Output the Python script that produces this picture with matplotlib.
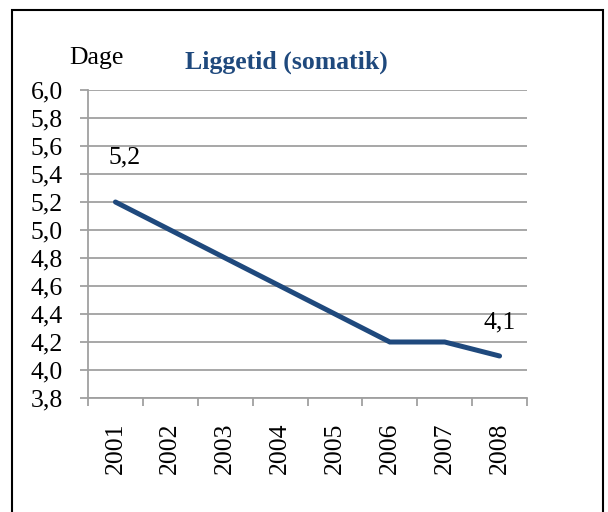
import numpy as np
import matplotlib.pyplot as plt
from matplotlib.patches import Rectangle

years = ['2001', '2002', '2003', '2004', '2005', '2006', '2007', '2008']
dage = [5.2, 5.0, 4.8, 4.6, 4.4, 4.2, 4.2, 4.1]
yticks = [3.8, 4.0, 4.2, 4.4, 4.6, 4.8, 5.0, 5.2, 5.4, 5.6, 5.8, 6.0]

plt.rcParams['font.family'] = ['Liberation Serif', 'DejaVu Serif']
W, H = 608, 512
fig = plt.figure(figsize=(W / 100, H / 100), dpi=100)
ax = fig.add_axes([88 / W, 1 - 398 / H, (527 - 88) / W, (398 - 90) / H])

grey = '#a0a0a0'
blue = '#1f497d'
fs = 18.5
x = np.arange(len(years))
ax.plot(x, dage, color=blue, lw=3.6, solid_capstyle='round', solid_joinstyle='miter')

ax.set_xlim(-0.5, len(years) - 0.5)
ax.set_ylim(3.8, 6.0)
ax.set_yticks(yticks)
ax.set_yticklabels([('%.1f' % v).replace('.', ',') for v in yticks], fontsize=fs)
ax.yaxis.grid(True, color=grey, lw=1.3)
ax.set_axisbelow(True)
ax.tick_params(axis='y', length=5.5, color=grey, width=1.3, pad=12.5)

ax.set_xticks(x)
ax.set_xticklabels(years, rotation=90, fontsize=fs)
ax.set_xticks(np.arange(-0.5, len(years)), minor=True)
ax.tick_params(axis='x', which='major', length=0, pad=18)
ax.tick_params(axis='x', which='minor', length=6, color=grey, width=1.3)

for s in ['top', 'right']:
    ax.spines[s].set_visible(False)
for s in ['left', 'bottom']:
    ax.spines[s].set_color(grey)
    ax.spines[s].set_linewidth(1.3)

# data labels
ax.annotate(('%.1f' % dage[0]).replace('.', ','), (x[0], dage[0]), xytext=(6.5, 32),
            textcoords='offset points', ha='center', va='center', fontsize=fs)
ax.annotate(('%.1f' % dage[-1]).replace('.', ','), (x[-1], dage[-1]), xytext=(0, 24),
            textcoords='offset points', ha='center', va='center', fontsize=fs)

fig.text(96 / W, 1 - 58 / H, 'Dage', ha='center', va='center', fontsize=fs)
fig.text(286 / W, 1 - 62 / H, 'Liggetid (somatik)', ha='center', va='center',
         fontsize=fs, fontweight='bold', color=blue)

fig.patches.append(Rectangle((12 / W, -0.1), (603 - 12) / W, 1.1 - 10 / H,
                             transform=fig.transFigure, fill=False,
                             edgecolor='black', lw=1.5))

fig.savefig('out.png', dpi=100)
